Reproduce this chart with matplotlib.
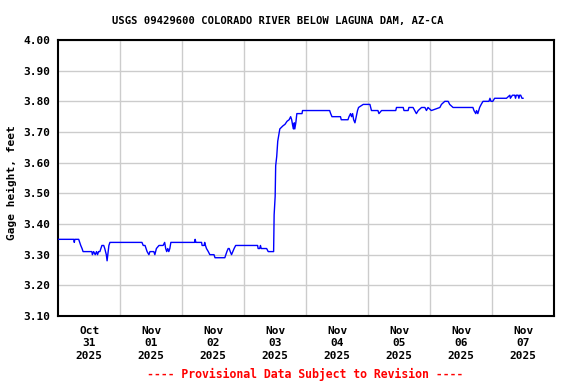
import numpy as np
import matplotlib
matplotlib.use("Agg")
import matplotlib.pyplot as plt
from matplotlib.ticker import MultipleLocator, FixedLocator, FormatStrFormatter

# hours since Oct 31 2025 00:00, gage height in feet
hours = [
    0.0, 6.0, 6.2, 6.4, 7.9, 8.3, 8.7, 9.2, 9.6, 13.0, 13.2, 13.7, 14.3, 14.8,
    15.2, 15.6, 16.1, 16.5, 16.9, 17.6, 18.0, 18.3, 18.6, 18.9, 19.3, 19.6, 20.0,
    32.4, 32.9, 33.6, 34.0, 34.4, 35.1, 35.5, 37.0, 37.4, 38.0, 39.0, 40.6, 41.2,
    41.6, 42.0, 42.4, 42.8, 43.2, 43.6, 52.8, 53.0, 53.3, 55.5, 55.7, 56.5, 56.7,
    57.0, 57.4, 58.1, 58.7, 60.3, 60.7, 64.5, 64.9, 65.3, 65.8, 66.2, 66.6, 67.1,
    67.6, 68.1, 68.7, 77.2, 77.4, 78.0, 78.3, 78.6, 80.7, 81.3, 83.2, 83.4,
    83.6, 84.0, 84.2, 84.6, 85.0, 85.4, 85.8, 87.0, 87.8, 88.6, 89.4, 90.0,
    90.4, 90.8, 91.1, 91.4, 91.6, 92.0, 92.4, 94.4, 94.6, 105.1, 105.5, 106.0,
    109.3, 109.6, 112.2, 112.6, 113.2, 113.6, 114.0, 114.4, 114.9, 115.4, 115.9,
    116.3, 118.1, 120.7, 121.3, 123.8, 124.2, 125.2, 130.7, 131.0, 133.6, 133.9,
    135.5, 135.8, 137.4, 138.7, 139.4, 140.7, 142.0, 142.6, 143.2, 144.5, 147.8,
    148.4, 149.7, 151.0, 151.6, 152.9, 160.6, 161.0, 161.7, 162.0, 162.5, 163.2,
    163.8, 164.5, 166.8, 167.2, 167.6, 168.3, 169.0, 173.6, 174.9, 175.1, 175.9,
    176.8, 177.1, 177.4, 178.1, 178.4, 178.7, 179.1, 179.6, 179.8, 180.0,
]
gage = [
    3.35, 3.35, 3.34, 3.35, 3.35, 3.34, 3.33, 3.32, 3.31, 3.31, 3.30, 3.31, 3.30, 3.31,
    3.30, 3.31, 3.31, 3.32, 3.33, 3.33, 3.32, 3.31, 3.30, 3.28, 3.31, 3.33, 3.34,
    3.34, 3.33, 3.33, 3.32, 3.31, 3.30, 3.31, 3.31, 3.30, 3.32, 3.33, 3.33, 3.34,
    3.32, 3.31, 3.32, 3.31, 3.32, 3.34, 3.34, 3.35, 3.34, 3.34, 3.33, 3.33, 3.34,
    3.33, 3.32, 3.31, 3.30, 3.30, 3.29, 3.29, 3.30, 3.31, 3.32, 3.32, 3.31, 3.30,
    3.31, 3.32, 3.33, 3.33, 3.32, 3.32, 3.33, 3.32, 3.32, 3.31, 3.31, 3.31,
    3.43, 3.49, 3.59, 3.62, 3.67, 3.69, 3.71, 3.72, 3.725, 3.735, 3.74, 3.75,
    3.74, 3.72, 3.71, 3.73, 3.71, 3.73, 3.76, 3.76, 3.77, 3.77, 3.76, 3.75,
    3.75, 3.74, 3.74, 3.75, 3.76, 3.75, 3.76, 3.74, 3.73, 3.75, 3.77,
    3.78, 3.79, 3.79, 3.77, 3.77, 3.76, 3.77, 3.77, 3.78, 3.78, 3.77,
    3.77, 3.78, 3.78, 3.76, 3.77, 3.78, 3.78, 3.77, 3.78, 3.77, 3.78,
    3.79, 3.80, 3.80, 3.79, 3.78, 3.78, 3.77, 3.76, 3.77, 3.76, 3.78,
    3.79, 3.80, 3.80, 3.81, 3.80, 3.80, 3.81, 3.81, 3.82, 3.81, 3.82,
    3.82, 3.81, 3.82, 3.82, 3.81, 3.82, 3.82, 3.81, 3.81, 3.81,
]

tick_labels = ["Oct\n31\n2025", "Nov\n01\n2025", "Nov\n02\n2025", "Nov\n03\n2025",
               "Nov\n04\n2025", "Nov\n05\n2025", "Nov\n06\n2025", "Nov\n07\n2025"]

plt.rcParams['font.family'] = ['DejaVu Sans Mono']
plt.rcParams['font.weight'] = 'bold'

fig = plt.figure(figsize=(5.76, 3.84), dpi=100)
ax = fig.add_axes([0.1012, 0.1771, 0.8606, 0.7187])

ax.plot(hours, gage, color='#0000ff', linewidth=1.0, zorder=3)

ax.set_xlim(0, 192)
ax.set_ylim(3.10, 4.00)
ax.xaxis.set_major_locator(FixedLocator([12 + 24 * k for k in range(8)]))
ax.xaxis.set_minor_locator(FixedLocator([24 * k for k in range(1, 8)]))
ax.set_xticklabels(tick_labels, fontsize=8, fontweight='bold', linespacing=1.3)
ax.yaxis.set_major_locator(MultipleLocator(0.1))
ax.yaxis.set_major_formatter(FormatStrFormatter('%.2f'))
for lab in ax.get_yticklabels():
    lab.set_fontsize(8)
    lab.set_fontweight('bold')

ax.tick_params(axis='both', which='both', length=0)
ax.tick_params(axis='y', pad=6)
ax.tick_params(axis='x', pad=7)
ax.grid(True, which='minor', axis='x', color='#cccccc', linewidth=1.0)
ax.grid(True, which='major', axis='y', color='#cccccc', linewidth=1.0)
ax.grid(False, which='major', axis='x')
for s in ax.spines.values():
    s.set_linewidth(1.5)

fig.text(0.483, 0.945, "USGS 09429600 COLORADO RIVER BELOW LAGUNA DAM, AZ-CA",
         ha='center', va='center', fontsize=7.6, fontweight='bold')
fig.text(0.02, 0.525, "Gage height, feet", rotation=90, ha='center', va='center',
         fontsize=8, fontweight='bold')
fig.text(0.530, 0.025, "---- Provisional Data Subject to Revision ----",
         ha='center', va='center', fontsize=8.3, fontweight='bold', color='#ff0000')

fig.savefig("out.png", dpi=100)
